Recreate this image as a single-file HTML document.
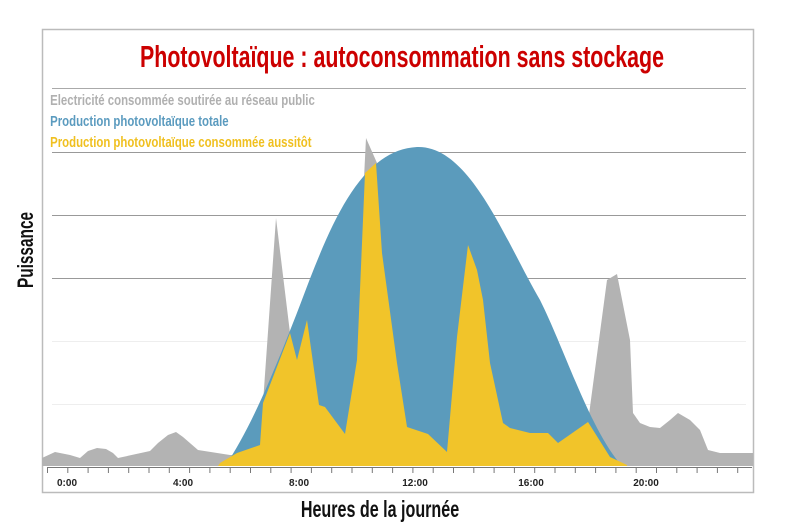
<!DOCTYPE html>
<html><head><meta charset="utf-8"><style>
body{margin:0;background:#fff;width:800px;height:525px;overflow:hidden;font-family:"Liberation Sans",sans-serif}
</style></head><body>
<svg width="800" height="525" viewBox="0 0 800 525" xmlns="http://www.w3.org/2000/svg">
<rect x="42.5" y="29.5" width="711" height="463" fill="#fff" stroke="#bbb" stroke-width="1.5"/>
<g stroke="#999" stroke-width="1">
<line x1="52" y1="88.5" x2="746" y2="88.5" stroke="#aaa"/>
<line x1="52" y1="152.5" x2="746" y2="152.5"/>
<line x1="52" y1="215.5" x2="746" y2="215.5"/>
<line x1="52" y1="278.5" x2="746" y2="278.5"/>
<line x1="52" y1="341.5" x2="746" y2="341.5" stroke="#eee"/>
<line x1="52" y1="404.5" x2="746" y2="404.5" stroke="#eee"/>
</g>
<text x="402" y="67" text-anchor="middle" fill="#cc0000" font-size="31" transform="translate(402 0) scale(0.69 1) translate(-402 0)" font-weight="bold">Photovoltaïque : autoconsommation sans stockage</text>
<g font-size="15" font-weight="bold" transform="scale(0.76 1)">
<text x="66" y="105" fill="#b0b0b0">Electricité consommée soutirée au réseau public</text>
<text x="66" y="126" fill="#5b9bbf">Production photovoltaïque totale</text>
<text x="66" y="147" fill="#f0c020">Production photovoltaïque consommée aussitôt</text>
</g>
<path fill="#b3b3b3" d="M42,466 L42,458 L55,452 L70,455 L80,458 L88,451 L97,448 L106,449 L113,453 L118,458 L150,451 L158,443 L168,435 L176,432 L183,437 L198,450 L230,455 L245,455 L263,403 L276,218 L290,333 L300,460 L350,460 L366,138 L377,163 L385,460 L580,460 L588,422 L607,280 L617,274 L630,340 L633,413 L640,423 L650,427 L660,428 L670,420 L678,413 L690,420 L700,430 L708,450 L720,453 L753,453 L753,466 Z"/>
<path fill="#5b9bbc" d="M225,466 C250,430 275,370 300,305 C330,225 360,150 417,147 C470,145 505,240 540,300 C565,350 590,430 622,466 Z"/>
<path fill="#f1c42a" d="M218,466 L220,463 L237,453 L260,445 L263,403 L290,333 L297,360 L307,320 L319,405 L325,407 L345,434 L357,360 L365,173 L376,163 L382,253 L397,363 L407,427 L428,434 L447,452 L457,337 L468,245 L477,270 L483,300 L490,363 L503,423 L510,428 L530,433 L548,433 L558,443 L588,422 L610,457 L627,465 L627,466 Z"/>
<line x1="47" y1="467.5" x2="752" y2="467.5" stroke="#777" stroke-width="1"/>
<g stroke="#777" stroke-width="1" id="ticks"></g>
<g font-size="10" font-weight="bold" fill="#222" text-anchor="middle">
<text x="67" y="486">0:00</text>
<text x="183" y="486">4:00</text>
<text x="299" y="486">8:00</text>
<text x="415" y="486">12:00</text>
<text x="531" y="486">16:00</text>
<text x="646" y="486">20:00</text>
</g>
<text x="380" y="517" text-anchor="middle" font-size="23" font-weight="bold" fill="#111" transform="translate(380 0) scale(0.7 1) translate(-380 0)">Heures de la journée</text>
<text x="0" y="0" font-size="22" font-weight="bold" fill="#111" transform="translate(33 250) rotate(-90) scale(0.7 1)" text-anchor="middle">Puissance</text>
</svg>
<script>
var g=document.getElementById('ticks'),s='';
for(var i=0;i<35;i++){var x=47.5+i*20.3;s+='<line x1="'+x+'" y1="467" x2="'+x+'" y2="473"/>';}
g.innerHTML=s;
</script>
</body></html>
